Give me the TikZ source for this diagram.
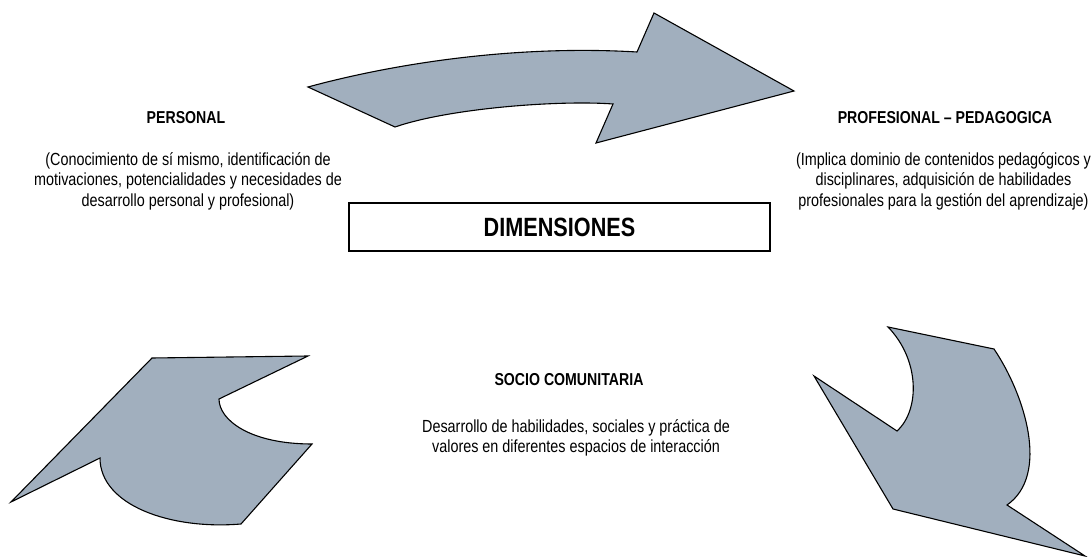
\documentclass[tikz,border=0pt]{standalone}
\usepackage{fontspec}
\setmainfont[FakeStretch=0.82]{Liberation Sans}
\definecolor{arrowfill}{RGB}{161,175,190}
\tikzset{
  bigarrow/.style={fill=arrowfill, draw=black, line width=1.1pt, line join=miter},
  title/.style={font=\bfseries\fontsize{17.3}{20}\selectfont, inner sep=0pt},
  para/.style={font=\fontsize{17.6}{20.5}\selectfont, align=center, inner sep=0pt},
  dimbox/.style={draw=black, line width=1.3pt, minimum width=421bp, minimum height=48bp, inner sep=0pt, font=\bfseries\fontsize{26.5}{30}\selectfont}
}
\begin{document}
\begin{tikzpicture}[x=1bp,y=-1bp]
\useasboundingbox (0,0) rectangle (1092,557);
% top arrow
\draw[bigarrow] (308,87) .. controls (400,62) and (520,45) .. (637,52) -- (654,13) -- (794,91) -- (596,143) -- (613,104)
  .. controls (560,100) and (450,108) .. (395,127) -- cycle;
% bottom-left arrow
\draw[bigarrow] (11,502) -- (152,358) -- (308,356) -- (219,399) .. controls (219,420) and (250,444) .. (312,444)
  -- (241,524) .. controls (170,530) and (100,505) .. (100,458) -- cycle;
% bottom-right arrow
\draw[bigarrow] (888,327) -- (994,349) .. controls (1025,395) and (1050,475) .. (1007,505) -- (1085,556)
  -- (893,509) -- (814,376) -- (897,431) .. controls (920,410) and (920,360) .. (888,327) -- cycle;
% box
\node[dimbox] (dim) at (559.5,227) {DIMENSIONES};
% labels
\node[title] (pers) at (186,118) {PERSONAL};
\node[para] (perst) at (188,181) {(Conocimiento de sí mismo, identificación de\\motivaciones, potencialidades y necesidades de\\desarrollo personal y profesional)};
\node[title] (prof) at (945,118) {PROFESIONAL – PEDAGOGICA};
\node[para] (proft) at (943.5,181) {(Implica dominio de contenidos pedagógicos y\\disciplinares, adquisición de habilidades\\profesionales para la gestión del aprendizaje)};
\node[title] (socio) at (569,380) {SOCIO COMUNITARIA};
\node[para] (sociot) at (576,438) {Desarrollo de habilidades, sociales y práctica de\\valores en diferentes espacios de interacción};
\end{tikzpicture}
\end{document}
